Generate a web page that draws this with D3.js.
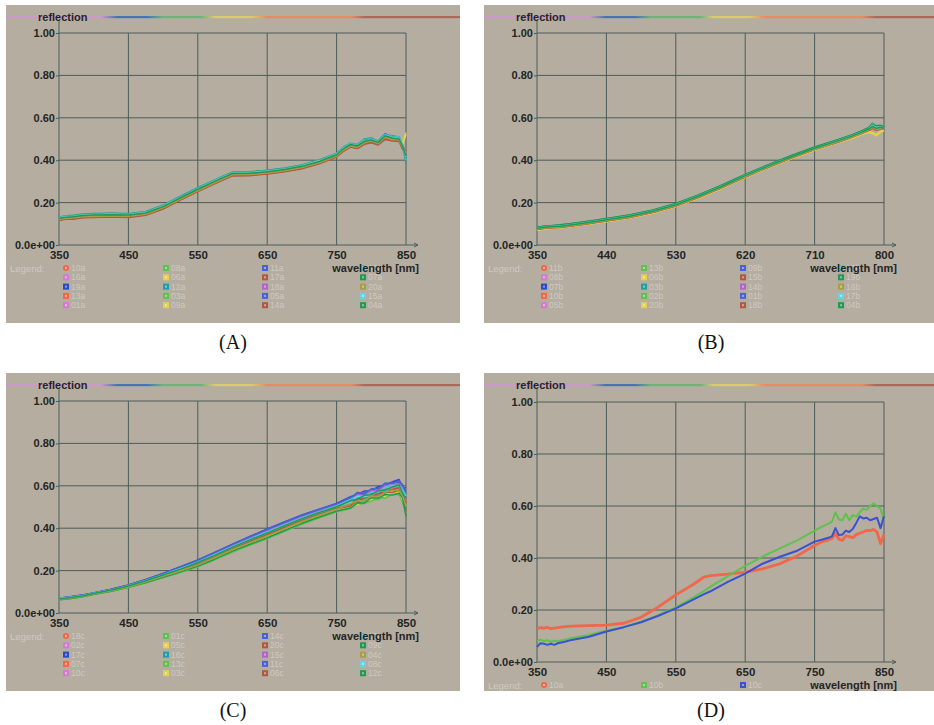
<!DOCTYPE html>
<html><head><meta charset="utf-8">
<script src="https://cdn.jsdelivr.net/npm/d3@7"></script>
<style>body{margin:0;background:#fff}svg{display:block}</style>
</head><body>
<svg id="c" width="934" height="725"></svg>
<script>
// ---------------- DATA ----------------
const yTicks = [0, 0.2, 0.4, 0.6, 0.8, 1.0];
const yTickLabels = ['0.0e+00', '0.20', '0.40', '0.60', '0.80', '1.00'];
const xTicksA = [350, 450, 550, 650, 750, 850];
const xTicksB = [350, 440, 530, 620, 710, 800];
const xTicksC = [350, 450, 550, 650, 750, 850];
const xTicksD = [350, 450, 550, 650, 750, 850];

// Panel A (wavelength nm, reflection)
const wlA = [350,360,370,385,400,425,450,475,500,525,550,575,600,625,650,675,700,725,750,760,770,780,790,800,810,820,830,840,845,850];
const labelsA = ['10a','16a','19a','13a','01a','08a','06a','12a','03a','09a','11a','17a','18a','05a','14a','02a','07a','20a','15a','04a'];
const a10 = [.120,.126,.125,.131,.134,.136,.134,.143,.173,.215,.255,.293,.329,.331,.339,.349,.364,.386,.418,.446,.468,.458,.478,.488,.478,.503,.497,.492,.470,.440];
const a16 = [.124,.129,.131,.136,.138,.140,.138,.148,.178,.220,.260,.298,.334,.335,.343,.353,.368,.391,.423,.452,.470,.468,.485,.497,.485,.512,.500,.505,.460,.430];
const a19 = [.130,.137,.137,.144,.146,.148,.146,.156,.186,.228,.268,.306,.342,.343,.351,.361,.376,.399,.431,.460,.478,.470,.495,.500,.490,.522,.510,.508,.470,.415];
const a13 = [.118,.124,.125,.130,.132,.134,.132,.142,.172,.214,.254,.292,.328,.329,.337,.347,.362,.385,.417,.445,.465,.455,.480,.485,.475,.500,.495,.490,.455,.450];
const a01 = [.126,.131,.133,.138,.140,.142,.140,.150,.180,.222,.262,.300,.336,.337,.345,.355,.370,.393,.425,.456,.473,.466,.486,.496,.483,.516,.503,.498,.468,.430];
const a08 = [.129,.134,.135,.142,.144,.146,.144,.154,.184,.226,.266,.304,.340,.341,.349,.359,.374,.397,.429,.458,.476,.470,.492,.498,.488,.518,.508,.502,.472,.420];
const a06 = [.124,.130,.128,.135,.137,.139,.137,.147,.177,.219,.259,.297,.333,.334,.342,.352,.367,.390,.422,.450,.470,.462,.484,.492,.480,.510,.502,.505,.480,.530];
const a12 = [.131,.138,.140,.146,.148,.150,.148,.158,.188,.230,.270,.308,.344,.345,.353,.363,.378,.401,.433,.462,.480,.475,.500,.505,.490,.520,.515,.510,.470,.385];
const a03 = [.127,.132,.134,.140,.142,.144,.142,.152,.182,.224,.264,.302,.338,.339,.347,.357,.372,.395,.427,.456,.475,.468,.490,.495,.486,.515,.506,.500,.465,.410];
const a09 = [.125,.130,.131,.137,.139,.141,.139,.149,.179,.221,.261,.299,.335,.336,.344,.354,.369,.392,.424,.453,.471,.465,.487,.494,.482,.512,.504,.500,.475,.520];
const a11 = [.130,.135,.137,.143,.145,.147,.145,.155,.185,.227,.267,.305,.341,.342,.350,.360,.375,.398,.430,.459,.477,.470,.492,.502,.488,.525,.508,.505,.468,.425];
const a17 = [.116,.121,.122,.128,.130,.132,.130,.140,.170,.212,.252,.290,.326,.327,.335,.345,.360,.383,.415,.442,.462,.455,.475,.482,.472,.498,.490,.488,.452,.440];
const a18 = [.122,.127,.128,.134,.136,.138,.136,.146,.176,.218,.258,.296,.332,.333,.341,.351,.366,.389,.421,.450,.468,.462,.485,.490,.480,.510,.500,.495,.460,.430];
const a05 = [.128,.133,.135,.141,.143,.145,.143,.153,.183,.225,.265,.303,.339,.340,.348,.358,.373,.396,.428,.457,.475,.468,.490,.497,.485,.518,.505,.500,.462,.420];
const a14 = [.119,.124,.126,.131,.133,.135,.133,.143,.173,.215,.255,.293,.329,.330,.338,.348,.363,.386,.418,.446,.465,.458,.478,.486,.476,.505,.496,.492,.458,.445];
const a02 = [.131,.137,.139,.145,.147,.149,.147,.157,.187,.229,.269,.307,.343,.344,.352,.362,.377,.400,.432,.462,.480,.475,.496,.500,.492,.520,.512,.510,.475,.400];
const a07 = [.130,.136,.138,.144,.146,.148,.146,.156,.186,.228,.268,.306,.342,.343,.351,.361,.376,.399,.431,.460,.478,.472,.494,.498,.490,.516,.510,.505,.470,.410];
const a20 = [.120,.125,.127,.133,.135,.137,.135,.145,.175,.217,.257,.295,.331,.332,.340,.350,.365,.388,.420,.448,.467,.460,.482,.490,.478,.508,.498,.495,.462,.435];
const a15 = [.129,.134,.136,.142,.144,.146,.144,.154,.184,.226,.266,.304,.340,.341,.349,.359,.374,.397,.429,.458,.477,.470,.492,.498,.487,.518,.508,.503,.470,.415];
const a04 = [.126,.131,.133,.139,.141,.143,.141,.151,.181,.223,.263,.301,.337,.338,.346,.356,.371,.394,.426,.455,.474,.467,.489,.495,.484,.515,.505,.500,.466,.420];
const seriesA = [a10,a16,a19,a13,a01,a08,a06,a12,a03,a09,a11,a17,a18,a05,a14,a02,a07,a20,a15,a04];

// Panel B
const wlB = [350,360,370,380,395,410,440,470,500,530,560,590,620,650,680,710,740,760,770,780,785,790,795,800];
const labelsB = ['11b','08b','07b','10b','05b','13b','06b','03b','02b','20b','09b','15b','14b','01b','18b','12b','19b','16b','17b','04b'];
const b11 = [.074,.080,.082,.084,.091,.098,.114,.131,.154,.185,.226,.272,.322,.368,.411,.451,.486,.510,.525,.540,.550,.545,.548,.545];
const b08 = [.077,.081,.086,.087,.094,.101,.117,.134,.157,.188,.229,.275,.325,.371,.414,.454,.489,.514,.528,.545,.556,.550,.552,.548];
const b07 = [.083,.088,.090,.093,.100,.107,.123,.140,.163,.194,.235,.281,.331,.377,.420,.460,.495,.520,.535,.552,.570,.555,.560,.555];
const b10 = [.072,.078,.081,.082,.089,.096,.112,.129,.152,.183,.224,.270,.320,.366,.409,.449,.484,.508,.522,.538,.548,.540,.545,.550];
const b05 = [.078,.084,.085,.088,.095,.102,.118,.135,.158,.189,.230,.276,.326,.372,.415,.455,.490,.515,.530,.546,.562,.548,.556,.550];
const b13 = [.082,.086,.090,.092,.099,.106,.122,.139,.162,.193,.234,.280,.330,.376,.419,.459,.494,.519,.534,.550,.565,.552,.558,.552];
const b06 = [.070,.076,.079,.080,.087,.094,.110,.127,.150,.181,.222,.268,.318,.364,.407,.447,.482,.505,.520,.530,.525,.515,.530,.540];
const b03 = [.084,.088,.091,.094,.101,.108,.124,.141,.164,.195,.236,.282,.332,.378,.421,.461,.496,.521,.536,.552,.575,.560,.562,.555];
const b02 = [.080,.085,.087,.090,.097,.104,.120,.137,.160,.191,.232,.278,.328,.374,.417,.457,.492,.517,.532,.548,.562,.550,.556,.552];
const b20 = [.071,.077,.080,.081,.088,.095,.111,.128,.151,.182,.223,.269,.319,.365,.408,.448,.483,.507,.522,.535,.530,.520,.535,.545];
const b09 = [.082,.087,.089,.092,.099,.106,.122,.139,.162,.193,.234,.280,.330,.376,.419,.459,.494,.519,.534,.550,.568,.555,.560,.552];
const b15 = [.073,.079,.081,.083,.090,.097,.113,.130,.153,.184,.225,.271,.321,.367,.410,.450,.485,.510,.524,.540,.552,.542,.548,.548];
const b14 = [.076,.081,.084,.086,.093,.100,.116,.133,.156,.187,.228,.274,.324,.370,.413,.453,.488,.513,.528,.544,.558,.546,.552,.550];
const b01 = [.081,.086,.089,.091,.098,.105,.121,.138,.161,.192,.233,.279,.329,.375,.418,.458,.493,.518,.533,.549,.565,.552,.558,.553];
const b18 = [.074,.079,.082,.084,.091,.098,.114,.131,.154,.185,.226,.272,.322,.368,.411,.451,.486,.511,.526,.542,.555,.544,.550,.547];
const b12 = [.083,.087,.091,.093,.100,.107,.123,.140,.163,.194,.235,.281,.331,.377,.420,.460,.495,.520,.535,.551,.572,.558,.562,.556];
const b19 = [.085,.089,.092,.095,.102,.109,.125,.142,.165,.196,.237,.283,.333,.379,.422,.462,.497,.522,.537,.553,.570,.562,.565,.558];
const b16 = [.075,.080,.083,.085,.092,.099,.115,.132,.155,.186,.227,.273,.323,.369,.412,.452,.487,.512,.527,.543,.555,.545,.550,.548];
const b17 = [.080,.085,.088,.090,.097,.104,.120,.137,.160,.191,.232,.278,.328,.374,.417,.457,.492,.517,.532,.548,.565,.552,.557,.552];
const b04 = [.079,.084,.087,.089,.096,.103,.119,.136,.159,.190,.231,.277,.327,.373,.416,.456,.491,.516,.531,.547,.560,.550,.555,.551];
const seriesB = [b11,b08,b07,b10,b05,b13,b06,b03,b02,b20,b09,b15,b14,b01,b18,b12,b19,b16,b17,b04];

// Panel C
const wlC = [350,360,370,385,400,425,450,475,500,525,550,575,600,625,650,675,700,725,750,770,780,790,800,810,820,830,840,845,850];
const labelsC = ['18c','02c','17c','07c','10c','01c','05c','16c','13c','03c','14c','20c','15c','11c','06c','19c','09c','04c','08c','12c'];
const c18 = [.065,.069,.073,.081,.091,.107,.126,.150,.177,.205,.235,.270,.307,.341,.374,.408,.441,.470,.498,.526,.540,.541,.561,.560,.581,.591,.589,.569,.528];
const c02 = [.068,.074,.076,.085,.093,.112,.130,.156,.186,.216,.248,.285,.322,.358,.393,.427,.459,.487,.514,.537,.568,.563,.570,.589,.596,.613,.621,.583,.588];
const c17 = [.070,.074,.078,.085,.095,.112,.132,.158,.187,.218,.250,.287,.325,.361,.396,.430,.462,.490,.517,.549,.559,.575,.577,.596,.604,.618,.630,.592,.590];
const c07 = [.065,.069,.073,.081,.091,.107,.125,.149,.176,.202,.231,.267,.303,.337,.370,.404,.437,.466,.494,.512,.540,.538,.547,.564,.566,.583,.588,.548,.528];
const c10 = [.068,.072,.076,.084,.094,.110,.130,.155,.183,.213,.244,.280,.318,.353,.387,.421,.454,.482,.509,.539,.548,.565,.568,.586,.592,.606,.617,.578,.566];
const c01 = [.062,.066,.070,.078,.088,.103,.121,.143,.168,.192,.219,.253,.289,.321,.352,.386,.420,.450,.478,.501,.512,.516,.537,.535,.551,.561,.556,.534,.468];
const c05 = [.063,.067,.071,.079,.089,.104,.122,.145,.170,.195,.222,.256,.293,.325,.356,.390,.424,.454,.482,.504,.510,.530,.535,.551,.550,.564,.572,.529,.482];
const c16 = [.066,.070,.074,.082,.092,.108,.127,.151,.178,.205,.235,.270,.307,.341,.374,.408,.441,.470,.498,.515,.542,.539,.563,.562,.583,.580,.591,.571,.505];
const c13 = [.061,.065,.069,.077,.087,.102,.120,.142,.167,.191,.218,.252,.288,.320,.351,.385,.419,.449,.477,.492,.518,.518,.528,.544,.542,.559,.562,.520,.480];
const c03 = [.064,.068,.072,.079,.089,.105,.123,.146,.172,.197,.225,.260,.296,.329,.361,.395,.428,.458,.486,.502,.529,.528,.537,.554,.554,.571,.575,.534,.504];
const c14 = [.069,.073,.077,.084,.094,.111,.131,.157,.185,.215,.247,.284,.321,.357,.392,.426,.458,.486,.513,.546,.562,.561,.579,.580,.605,.615,.615,.597,.576];
const c20 = [.064,.068,.072,.080,.090,.106,.125,.149,.176,.202,.231,.267,.303,.337,.370,.404,.437,.466,.494,.519,.526,.545,.549,.566,.568,.582,.591,.550,.518];
const c15 = [.067,.073,.077,.083,.093,.109,.129,.154,.182,.212,.243,.279,.317,.352,.386,.420,.453,.481,.508,.530,.558,.554,.577,.577,.601,.598,.610,.592,.541];
const c11 = [.072,.073,.079,.086,.094,.111,.131,.157,.186,.217,.249,.286,.324,.360,.395,.429,.461,.489,.516,.540,.569,.564,.586,.587,.613,.610,.623,.606,.565];
const c06 = [.064,.068,.072,.080,.090,.106,.124,.148,.174,.200,.228,.263,.300,.333,.365,.399,.433,.462,.490,.505,.531,.529,.553,.552,.571,.568,.578,.557,.481];
const c19 = [.068,.072,.076,.083,.093,.109,.129,.154,.181,.210,.241,.277,.314,.349,.383,.417,.449,.478,.505,.536,.551,.551,.570,.570,.593,.603,.602,.583,.552];
const c09 = [.062,.066,.070,.078,.088,.103,.121,.144,.169,.194,.221,.255,.292,.324,.355,.389,.423,.453,.481,.495,.520,.519,.544,.542,.559,.556,.565,.543,.457];
const c04 = [.063,.067,.071,.079,.089,.105,.123,.147,.173,.199,.227,.262,.299,.332,.364,.398,.432,.461,.489,.516,.529,.531,.551,.550,.569,.579,.576,.555,.504];
const c08 = [.067,.071,.075,.082,.092,.108,.128,.152,.179,.208,.238,.273,.311,.345,.378,.412,.445,.474,.501,.522,.551,.548,.556,.574,.578,.595,.601,.562,.552];
const c12 = [.066,.070,.074,.081,.092,.108,.127,.152,.179,.207,.238,.273,.311,.345,.378,.412,.445,.474,.501,.529,.537,.555,.558,.576,.580,.594,.604,.564,.542];
const seriesC = [c18,c02,c17,c07,c10,c01,c05,c16,c13,c03,c14,c20,c15,c11,c06,c19,c09,c04,c08,c12];

// Panel D
const wlD = [350,355,360,365,370,375,380,390,400,425,450,475,500,525,550,575,590,600,625,650,675,700,725,750,760,770,775,780,785,790,795,800,805,810,815,820,825,830,835,840,845,850];
const labelsD = ['10a','10b','10c'];
const d10a = [.128,.132,.130,.133,.128,.130,.132,.136,.138,.140,.142,.149,.172,.212,.258,.298,.326,.332,.338,.346,.358,.378,.408,.448,.462,.470,.475,.495,.472,.468,.485,.482,.478,.490,.495,.500,.506,.505,.510,.500,.455,.490];
const d10b = [.080,.086,.080,.084,.078,.082,.080,.086,.092,.104,.120,.134,.155,.180,.210,.248,.272,.290,.330,.370,.405,.437,.468,.505,.520,.532,.540,.576,.548,.545,.570,.545,.565,.560,.575,.590,.585,.600,.610,.600,.590,.545];
const d10c = [.058,.072,.070,.066,.070,.066,.072,.078,.085,.097,.117,.134,.153,.178,.206,.240,.260,.272,.308,.340,.378,.405,.428,.463,.470,.478,.483,.515,.488,.490,.505,.500,.512,.535,.560,.552,.555,.545,.550,.555,.515,.560];
const seriesD = [d10a,d10b,d10c];

// ---------------- STYLE ----------------
const legendColors = ['#f0674a','#d27ccf','#2f48c4','#f0674a','#d27ccf','#5ec24c','#e3d34c','#1f9ea6','#5ec24c','#e3d34c','#4a62d6','#b25842','#b262c8','#4a62d6','#b25842','#4ac6d6','#1f9a52','#a89f42','#6ad2e2','#1f9a52'];
const colorsD = ['#f0674a','#5ec24c','#3a52d0'];
const BG = '#b4ada0', GRID = '#4d5c5b', TXT = '#252525', LEGTXT = '#cfcac1';
const FONT = '"Liberation Sans", Arial, sans-serif';
const stopsL = [[0,'#c99bc6'],[0.21,'#c99bc6'],[0.245,'#4b70b6'],[0.31,'#4b70b6'],[0.345,'#6fb27c'],[0.43,'#6fb27c'],[0.46,'#d9cc6c'],[0.54,'#d9cc6c'],[0.575,'#e78a6a'],[0.76,'#e78a6a'],[0.79,'#a96a5a'],[1,'#a96a5a']];
const stopsR = [[0,'#c99bc6'],[0.235,'#c99bc6'],[0.27,'#4b70b6'],[0.335,'#4b70b6'],[0.37,'#6fb27c'],[0.48,'#6fb27c'],[0.51,'#d9cc6c'],[0.59,'#d9cc6c'],[0.625,'#e78a6a'],[0.84,'#e78a6a'],[0.87,'#a96a5a'],[1,'#a96a5a']];

const panels = [
  {id:'A', bx:6,   by:5,   bw:454, bh:318, px0:59,  px1:406, py1:33,  py0:245, wl:wlA, xt:xTicksA, series:seriesA, labels:labelsA, colors:legendColors, cap:'(A)', cx:233, cy:349, stops:stopsL, lw:1.5},
  {id:'B', bx:484, by:5,   bw:450, bh:318, px0:537, px1:884, py1:33,  py0:245, wl:wlB, xt:xTicksB, series:seriesB, labels:labelsB, colors:legendColors, cap:'(B)', cx:711, cy:349, stops:stopsR, lw:1.5},
  {id:'C', bx:6,   by:373, bw:454, bh:318, px0:59,  px1:406, py1:401, py0:613, wl:wlC, xt:xTicksC, series:seriesC, labels:labelsC, colors:legendColors, cap:'(C)', cx:233, cy:717, stops:stopsL, lw:1.5},
  {id:'D', bx:484, by:373, bw:450, bh:318, px0:537, px1:884, py1:402, py0:662, wl:wlD, xt:xTicksD, series:seriesD, labels:labelsD, colors:colorsD, cap:'(D)', cx:711, cy:717, stops:stopsR, lw:2}
];

const svg = d3.select('#c');
const defs = svg.append('defs');

panels.forEach(p => {
  const g = svg.append('g');
  g.append('rect').attr('x', p.bx).attr('y', p.by).attr('width', p.bw).attr('height', p.bh).attr('fill', BG);

  // rainbow bar
  const gid = 'rb' + p.id;
  const lg = defs.append('linearGradient').attr('id', gid).attr('x1', '0%').attr('x2', '100%');
  p.stops.forEach(s => lg.append('stop').attr('offset', s[0]).attr('stop-color', s[1]));
  g.append('rect').attr('x', p.bx).attr('y', p.by + 11).attr('width', p.bw).attr('height', 2.2).attr('fill', `url(#${gid})`);

  const x = d3.scaleLinear().domain([p.xt[0], p.xt[p.xt.length - 1]]).range([p.px0, p.px1]);
  const y = d3.scaleLinear().domain([0, 1]).range([p.py0, p.py1]);

  // grid
  g.append('g').selectAll('line').data(p.xt.slice(1)).join('line')
    .attr('x1', d => x(d)).attr('x2', d => x(d)).attr('y1', p.py0).attr('y2', p.py1)
    .attr('stroke', GRID).attr('stroke-width', 1);
  g.append('g').selectAll('line').data(yTicks.slice(1)).join('line')
    .attr('x1', p.px0).attr('x2', p.px1).attr('y1', d => y(d)).attr('y2', d => y(d))
    .attr('stroke', GRID).attr('stroke-width', 1);

  // axes lines
  g.append('line').attr('x1', p.px0).attr('x2', p.px0).attr('y1', p.py0).attr('y2', p.by + 15)
    .attr('stroke', GRID).attr('stroke-width', 1);
  g.append('line').attr('x1', p.px0).attr('x2', p.px1 + 12).attr('y1', p.py0).attr('y2', p.py0)
    .attr('stroke', GRID).attr('stroke-width', 1);
  g.append('path').attr('d', `M${p.px1 + 8},${p.py0 - 2}L${p.px1 + 12},${p.py0}L${p.px1 + 8},${p.py0 + 2}`)
    .attr('fill', 'none').attr('stroke', GRID).attr('stroke-width', 1);

  // y axis labels
  const ya = d3.axisLeft(y).tickValues(yTicks).tickFormat((d, i) => yTickLabels[i]).tickSize(3).tickPadding(1);
  const yg = g.append('g').attr('transform', `translate(${p.px0},0)`).call(ya);
  yg.select('.domain').remove();
  yg.selectAll('line').attr('stroke', GRID);
  yg.selectAll('text').attr('fill', TXT).style('font-family', FONT).style('font-size', '11px').style('font-weight', 'bold');

  // x axis labels
  const xa = d3.axisBottom(x).tickValues(p.xt).tickFormat(d3.format('d')).tickSize(0).tickPadding(6);
  const xg = g.append('g').attr('transform', `translate(0,${p.py0})`).call(xa);
  xg.select('.domain').remove();
  xg.selectAll('text').attr('fill', TXT).style('font-family', FONT).style('font-size', '11.5px').style('font-weight', 'bold');

  // reflection title
  g.append('text').attr('x', p.bx + 32).attr('y', p.by + 15.5).text('reflection')
    .attr('fill', TXT).style('font-family', FONT).style('font-size', '11px').style('font-weight', 'bold');

  // curves
  const line = d3.line().x(d => x(d[0])).y(d => y(d[1]));
  const cg = g.append('g');
  p.series.forEach((s, i) => {
    const pts = p.wl.map((w, k) => [w, s[k]]).filter(d => d[1] != null);
    cg.append('path').datum(pts).attr('d', line)
      .attr('fill', 'none').attr('stroke', p.colors[i])
      .attr('stroke-width', p.id === 'D' && i === 0 ? 2.8 : p.lw)
      .attr('stroke-linejoin', 'round');
  });

  // legend
  const ly = p.py0 + 23;
  g.append('text').attr('x', p.bx + 4).attr('y', ly + 3.5).text('Legend:')
    .attr('fill', LEGTXT).style('font-family', FONT).style('font-size', '9.5px');
  const colOff = [7, 107, 206, 304];
  p.labels.forEach((lab, i) => {
    const col = p.id === 'D' ? i : Math.floor(i / 5);
    const row = p.id === 'D' ? 0 : i % 5;
    const mx = p.px0 + colOff[col], my = ly + row * 9.3;
    const c = p.colors[i];
    g.append('rect').attr('x', mx - 3).attr('y', my - 3).attr('width', 6).attr('height', 6)
      .attr('rx', i === 0 ? 3 : 0).attr('fill', c);
    g.append('rect').attr('x', mx - 1).attr('y', my - 1).attr('width', 2).attr('height', 2)
      .attr('fill', d3.interpolateRgb(c, '#ffffff')(0.45));
    g.append('text').attr('x', mx + 5).attr('y', my + 3).text(lab)
      .attr('fill', LEGTXT).style('font-family', FONT).style('font-size', '8.5px');
  });

  g.append('text').attr('x', p.px0 + 360).attr('y', ly + 4).attr('text-anchor', 'end').text('wavelength [nm]')
    .attr('fill', TXT).style('font-family', FONT).style('font-size', '11px').style('font-weight', 'bold');

  // caption
  svg.append('text').attr('x', p.cx).attr('y', p.cy).attr('text-anchor', 'middle').text(p.cap)
    .attr('fill', '#111').style('font-family', '"Liberation Serif", "DejaVu Serif", serif').style('font-size', '20px');
});
</script>
</body></html>
